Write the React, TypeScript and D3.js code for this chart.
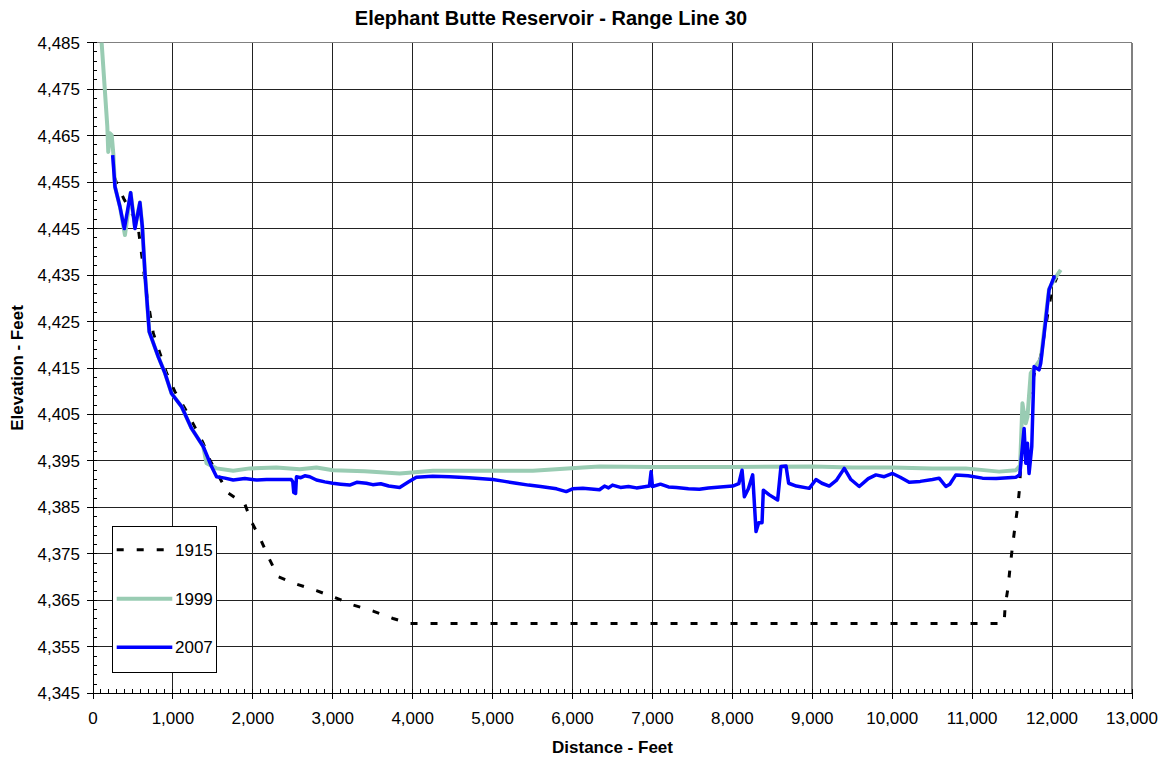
import React from "react";
import * as d3 from "d3";

const X_TICKS = [0, 1000, 2000, 3000, 4000, 5000, 6000, 7000, 8000, 9000, 10000, 11000, 12000, 13000];
const Y_TICKS = [4345, 4355, 4365, 4375, 4385, 4395, 4405, 4415, 4425, 4435, 4445, 4455, 4465, 4475, 4485];

const X1915 = [270, 296, 392, 560, 671, 754, 837, 921, 1025, 1150, 1262, 1379, 1462, 1690, 1900, 1984, 2100, 2204, 2316, 2546, 2796, 3029, 3254, 3504, 3754, 3962, 11400, 11412, 11450, 11475, 11504, 11537, 11571, 11596, 11616, 11629, 11700, 11780, 11850, 11930, 12000, 12060];
const Y1915 = [4456, 4454.7, 4451.2, 4446, 4431, 4422.5, 4418.2, 4413.9, 4409.9, 4406.3, 4402.7, 4398.8, 4395.2, 4388.1, 4385.7, 4381.9, 4378, 4374, 4370.1, 4368.5, 4367.1, 4365.6, 4364, 4362.7, 4361.1, 4360, 4360, 4363.6, 4367.9, 4372.2, 4376.5, 4381, 4385.3, 4389.6, 4398.8, 4403, 4408, 4414, 4417, 4425, 4432, 4434.5];

const X1999 = [108, 179, 191, 212, 234, 254, 275, 337, 400, 471, 525, 587, 617, 650, 704, 817, 900, 983, 1108, 1233, 1379, 1421, 1546, 1754, 1962, 2296, 2587, 2796, 3004, 3400, 3837, 4254, 4671, 5504, 6129, 6337, 7000, 8000, 9000, 9500, 10000, 10500, 10921, 11337, 11546, 11600, 11629, 11650, 11671, 11692, 11733, 11800, 11860, 11920, 11962, 12025, 12108];
const Y1999 = [4485, 4467, 4461.5, 4465.5, 4465.1, 4461.2, 4454, 4449.7, 4443.6, 4452.7, 4445.3, 4450.6, 4445.4, 4435.4, 4422.8, 4417.4, 4413.9, 4409.5, 4406.7, 4402, 4398.1, 4394.5, 4393.4, 4392.9, 4393.4, 4393.6, 4393.2, 4393.6, 4393, 4392.8, 4392.3, 4392.9, 4392.9, 4392.9, 4393.6, 4393.8, 4393.7, 4393.7, 4393.8, 4393.6, 4393.6, 4393.4, 4393.4, 4392.7, 4393, 4394, 4407.4, 4405, 4403.1, 4404.5, 4413.9, 4415.5, 4417, 4426, 4432, 4434, 4436.1];

const X2007 = [246, 275, 337, 392, 471, 525, 587, 617, 650, 704, 817, 900, 983, 1108, 1233, 1379, 1483, 1546, 1650, 1754, 1900, 2050, 2171, 2480, 2500, 2512, 2535, 2546, 2600, 2650, 2712, 2796, 2900, 3000, 3100, 3212, 3300, 3421, 3500, 3600, 3700, 3837, 3950, 4046, 4250, 4462, 4700, 5004, 5150, 5296, 5450, 5600, 5800, 5921, 6000, 6129, 6337, 6400, 6450, 6500, 6600, 6700, 6800, 6962, 6983, 7000, 7100, 7200, 7300, 7450, 7587, 7700, 7850, 8004, 8080, 8121, 8150, 8200, 8254, 8296, 8329, 8371, 8387, 8462, 8566, 8608, 8671, 8704, 8800, 8962, 9046, 9120, 9212, 9300, 9400, 9483, 9587, 9700, 9796, 9900, 10004, 10100, 10212, 10350, 10504, 10587, 10671, 10720, 10796, 10950, 11129, 11300, 11450, 11546, 11596, 11629, 11650, 11671, 11692, 11712, 11746, 11775, 11837, 11858, 11921, 11962, 12025, 12046];
const Y2007 = [4460.8, 4454, 4449.7, 4445, 4452.7, 4445, 4450.6, 4445.4, 4435.4, 4422.8, 4417.4, 4413.9, 4409.5, 4406.7, 4402, 4398.1, 4393.8, 4391.6, 4391.3, 4390.9, 4391.2, 4390.9, 4391, 4391, 4390.5, 4388.2, 4388, 4391.6, 4391.4, 4391.8, 4391.6, 4390.9, 4390.5, 4390.2, 4390, 4389.8, 4390.4, 4390.2, 4389.9, 4390.1, 4389.6, 4389.3, 4390.5, 4391.5, 4391.7, 4391.6, 4391.4, 4391, 4390.6, 4390.2, 4389.8, 4389.5, 4389, 4388.4, 4389, 4389.1, 4388.8, 4389.6, 4389.2, 4389.8, 4389.3, 4389.5, 4389.2, 4389.6, 4392.7, 4389.5, 4390, 4389.4, 4389.3, 4389, 4388.9, 4389.2, 4389.4, 4389.6, 4390.1, 4393, 4387.3, 4389, 4392, 4379.8, 4381.7, 4381.7, 4388.7, 4387.7, 4386.6, 4393.8, 4393.9, 4390.2, 4389.6, 4389.1, 4391, 4390.2, 4389.6, 4390.8, 4393.4, 4391, 4389.5, 4391.2, 4392, 4391.6, 4392.3, 4391.5, 4390.4, 4390.6, 4391, 4391.3, 4389.5, 4390, 4392, 4391.8, 4391.3, 4391.2, 4391.4, 4391.5, 4392, 4398.1, 4402, 4394.5, 4398.8, 4392.3, 4398.1, 4415.3, 4414.6, 4416, 4425.3, 4431.8, 4434.6, 4434.6];

const SERIES = ["1915", "1999", "2007"];
const FONT = "Arial, 'Liberation Sans', Helvetica, sans-serif";

export default function App() {
  const W = 1168, H = 761;
  const left = 93, right = 1132, top = 42.7, bottom = 693.3;
  const x = d3.scaleLinear().domain([0, 13000]).range([left, right]);
  const y = d3.scaleLinear().domain([4345, 4485]).range([bottom, top]);
  const line = d3.line<[number, number]>().x(d => x(d[0])).y(d => y(d[1]));
  const zip = (xs: number[], ys: number[]) => xs.map((v, i) => [v, ys[i]] as [number, number]);

  const xMinor = d3.range(0, 13001, 100);
  const yMinor = d3.range(4345, 4486, 2);

  const styles: Record<string, any> = {
    "1915": { stroke: "#000", strokeWidth: 3, dash: "7,13" },
    "1999": { stroke: "#99CCB3", strokeWidth: 4, dash: undefined },
    "2007": { stroke: "#0000FF", strokeWidth: 3.5, dash: undefined },
  };
  const data: Record<string, [number, number][]> = {
    "1915": zip(X1915, Y1915),
    "1999": zip(X1999, Y1999),
    "2007": zip(X2007, Y2007),
  };

  const legX = 112.7, legY = 526.7, legW = 104, legH = 146;
  const legRows = [549.7, 598.7, 647.3];

  return (
    <svg width={W} height={H} style={{ position: "absolute", left: 0, top: 0, fontFamily: FONT }}>
      <rect x={0} y={0} width={W} height={H} fill="#fff" />
      <text x={551} y={25} textAnchor="middle" fontSize={20} fontWeight="bold">Elephant Butte Reservoir - Range Line 30</text>
      {/* grid */}
      <g shapeRendering="crispEdges">
        {X_TICKS.slice(1, -1).map(t => (
          <line key={"gx" + t} x1={x(t)} x2={x(t)} y1={top} y2={bottom} stroke="#222" strokeWidth={1} />
        ))}
        {Y_TICKS.slice(1, -1).map(t => (
          <line key={"gy" + t} x1={left} x2={right} y1={y(t)} y2={y(t)} stroke="#222" strokeWidth={1} />
        ))}
        <line x1={left} x2={right} y1={top} y2={top} stroke="#808080" strokeWidth={1.5} />
        <line x1={right} x2={right} y1={top} y2={bottom} stroke="#808080" strokeWidth={1.5} />
      </g>
      {/* series */}
      <g fill="none" strokeLinejoin="round">
        {SERIES.map(s => (
          <path key={s} d={line(data[s]) || ""} stroke={styles[s].stroke} strokeWidth={styles[s].strokeWidth} strokeDasharray={styles[s].dash} />
        ))}
      </g>
      {/* axes */}
      <g shapeRendering="crispEdges" stroke="#000">
        <line x1={left} x2={left} y1={top} y2={bottom} />
        <line x1={left} x2={right} y1={bottom} y2={bottom} />
        {xMinor.map(t => (
          <line key={"xm" + t} x1={x(t)} x2={x(t)} y1={bottom - 4} y2={bottom} />
        ))}
        {X_TICKS.map(t => (
          <line key={"xt" + t} x1={x(t)} x2={x(t)} y1={bottom} y2={bottom + 6} />
        ))}
        {yMinor.map(t => (
          <line key={"ym" + t} x1={left} x2={left + 4} y1={y(t)} y2={y(t)} />
        ))}
        {Y_TICKS.map(t => (
          <line key={"yt" + t} x1={left - 6} x2={left} y1={y(t)} y2={y(t)} />
        ))}
      </g>
      <g fontSize={17} fill="#000">
        {X_TICKS.map(t => (
          <text key={"xl" + t} x={x(t)} y={bottom + 31} textAnchor="middle">{d3.format(",")(t)}</text>
        ))}
        {Y_TICKS.map(t => (
          <text key={"yl" + t} x={80} y={y(t) + 6} textAnchor="end">{d3.format(",")(t)}</text>
        ))}
      </g>
      <text x={(left + right) / 2} y={753} textAnchor="middle" fontSize={17} fontWeight="bold">Distance - Feet</text>
      <text transform={`translate(23, ${(top + bottom) / 2}) rotate(-90)`} textAnchor="middle" fontSize={17} fontWeight="bold">Elevation - Feet</text>
      {/* legend */}
      <rect x={legX} y={legY} width={legW} height={legH} fill="#fff" stroke="#000" strokeWidth={1} shapeRendering="crispEdges" />
      {SERIES.map((s, i) => (
        <g key={"lg" + s}>
          <line x1={116.7} x2={172.3} y1={legRows[i]} y2={legRows[i]} stroke={styles[s].stroke} strokeWidth={styles[s].strokeWidth} strokeDasharray={styles[s].dash} />
          <text x={175} y={legRows[i] + 6} fontSize={17}>{s}</text>
        </g>
      ))}
    </svg>
  );
}
